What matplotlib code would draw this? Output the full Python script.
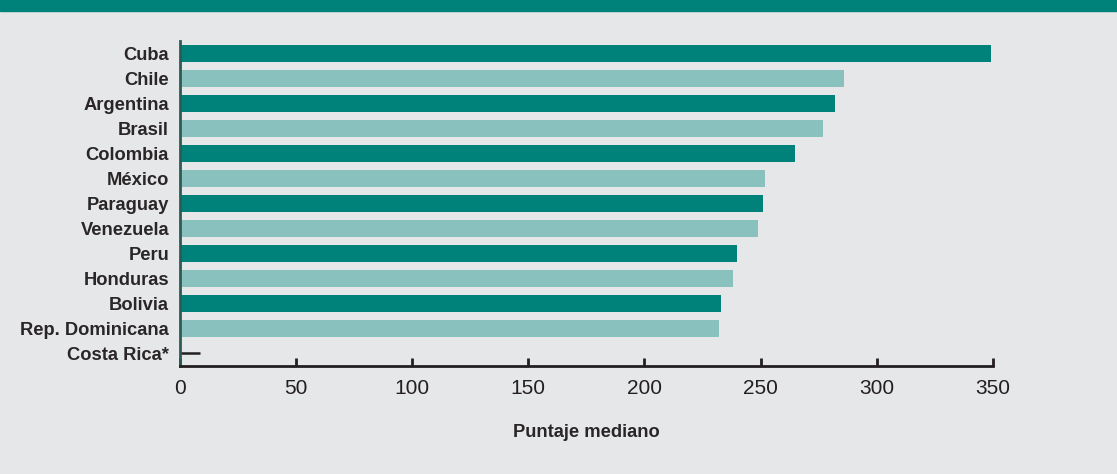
import matplotlib.pyplot as plt

# Data
countries = ['Cuba', 'Chile', 'Argentina', 'Brasil', 'Colombia', 'México',
             'Paraguay', 'Venezuela', 'Peru', 'Honduras', 'Bolivia',
             'Rep. Dominicana', 'Costa Rica*']
scores = [349, 286, 282, 277, 265, 252, 251, 249, 240, 238, 233, 232, None]
xticks = [0, 50, 100, 150, 200, 250, 300, 350]

dark = '#00827A'
light = '#88C1BE'
bg = '#E6E7E9'
ink = '#231F20'

plt.rcParams['font.family'] = ['Liberation Sans', 'DejaVu Sans']

fig = plt.figure(figsize=(11.17, 4.74), dpi=100, facecolor=bg)
ax = fig.add_axes([0.1607, 0.2285, 0.889 - 0.1607, 0.9135 - 0.2285])
ax.set_facecolor(bg)

# teal band at the top
fig.patches.append(plt.Rectangle((0, 1 - 11 / 474), 1, 11 / 474,
                                 transform=fig.transFigure, color=dark, zorder=0))

for i, (c, v) in enumerate(zip(countries, scores)):
    if v is None:
        # no data: short dash
        ax.plot([0, 8.8], [i, i], color=ink, lw=1.8, solid_capstyle='butt')
    else:
        ax.barh(i, v, height=0.68, color=dark if i % 2 == 0 else light)

ax.set_yticks(range(len(countries)))
ax.set_yticklabels(countries, fontsize=13.2, fontweight='bold', color='#2A2627')
ax.set_ylim(len(countries) - 0.5, -0.5)
ax.set_xlim(0, 350)
ax.set_xticks(xticks)
ax.set_xticklabels([str(t) for t in xticks], fontsize=15, color=ink)
ax.tick_params(axis='y', length=0, pad=7.5)
ax.tick_params(axis='x', direction='in', length=6, width=2, color=ink, pad=9.5)
ax.set_xlabel('Puntaje mediano', fontsize=13.2, fontweight='bold', color='#2A2627', labelpad=19)

for s in ['top', 'right']:
    ax.spines[s].set_visible(False)
ax.spines['bottom'].set_color(ink)
ax.spines['bottom'].set_linewidth(2)
ax.spines['left'].set_color('#2E5A56')
ax.spines['left'].set_linewidth(2)

fig.savefig('out.png', dpi=100, facecolor=bg)
